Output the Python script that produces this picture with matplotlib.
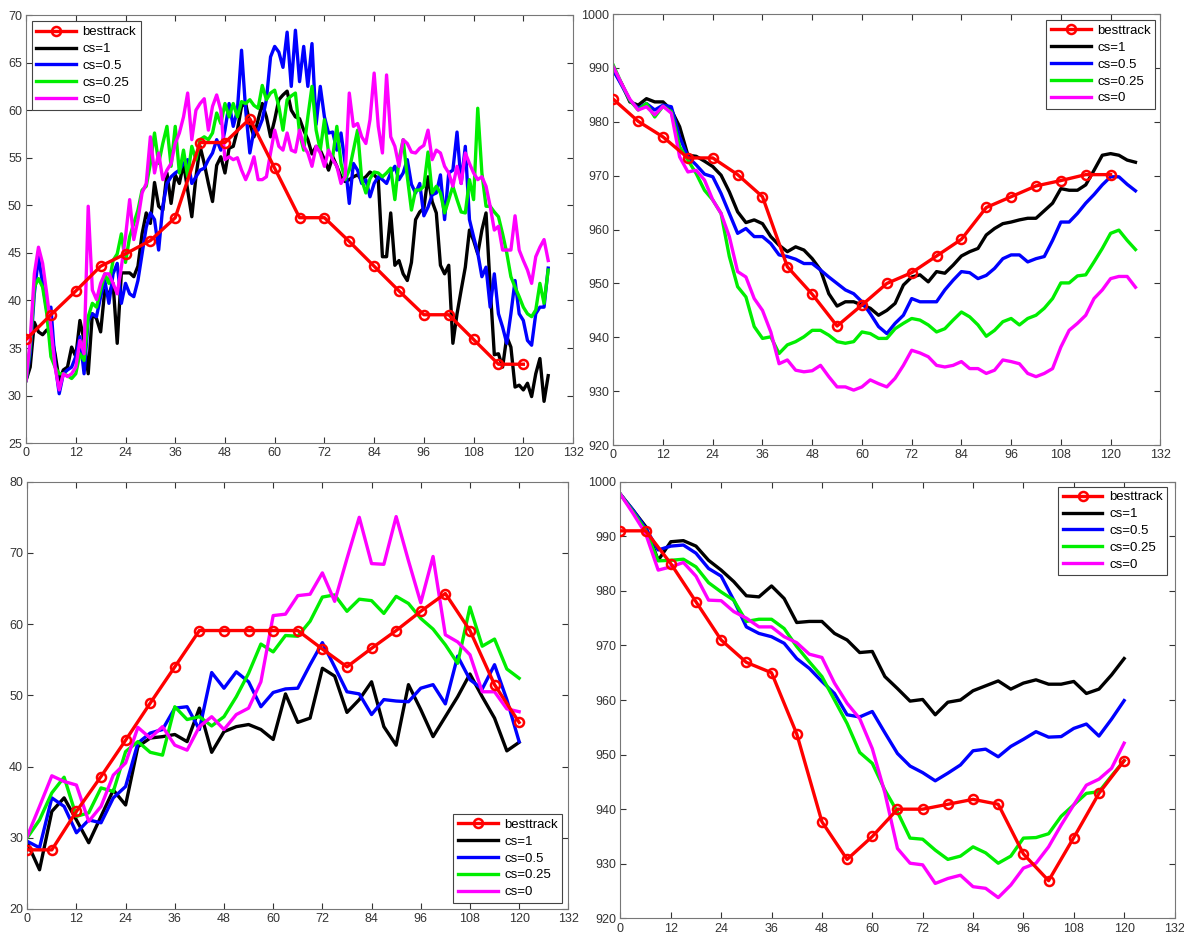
import numpy as np
import matplotlib
matplotlib.use("Agg")
import matplotlib.pyplot as plt

plt.rcParams['font.family'] = ['Liberation Sans', 'DejaVu Sans']

labels = ['besttrack', 'cs=1', 'cs=0.5', 'cs=0.25', 'cs=0']
colors = ['red', 'black', 'blue', '#00ee00', 'magenta']

# ---- top left: wind, hourly model output ----
tl_best_t = list(range(0, 121, 6))
tl_best = [35.9, 38.5, 41.0, 43.6, 44.9, 46.3, 48.7, 56.6, 56.6, 59.1, 53.9,
           48.7, 48.7, 46.2, 43.6, 41.0, 38.5, 38.5, 35.9, 33.3, 33.3]
tl_t = list(range(0, 127))
tl_cs1 = [31.6, 33.0, 37.7, 36.7, 36.4, 36.9, 36.5, 34.4, 31.6, 32.7,
          33.0, 35.1, 34.1, 37.9, 35.8, 32.3, 38.6, 38.1, 36.7, 41.1,
          40.7, 41.8, 35.5, 42.9, 42.9, 42.9, 42.5, 43.6, 47.0, 49.2,
          48.1, 52.4, 49.9, 49.5, 53.4, 50.2, 53.2, 52.3, 54.4, 51.6,
          48.8, 53.0, 56.2, 54.4, 52.3, 50.4, 54.2, 55.1, 53.4, 56.0,
          56.2, 57.9, 60.4, 60.7, 58.6, 57.2, 59.0, 60.7, 59.3, 57.2,
          59.0, 61.1, 61.6, 62.0, 60.0, 59.3, 59.1, 57.9, 56.9, 55.4,
          56.2, 55.8, 54.8, 53.7, 55.1, 54.1, 53.0, 52.5, 52.7, 53.0,
          53.2, 52.7, 53.0, 53.5, 53.2, 52.7, 44.6, 44.6, 49.2, 43.7,
          44.2, 42.8, 42.1, 44.0, 48.5, 49.3, 49.7, 53.0, 50.4, 49.2,
          43.7, 42.8, 43.7, 35.5, 38.6, 41.1, 43.5, 47.4, 46.3, 44.9,
          47.4, 49.2, 41.4, 34.3, 34.4, 33.0, 36.2, 35.1, 30.9, 31.1,
          30.6, 31.3, 29.9, 32.3, 33.9, 29.4, 32.1]
tl_cs05 = [31.6, 34.4, 40.7, 44.6, 41.8, 39.0, 39.3, 33.4, 30.2, 32.3,
           32.7, 33.0, 34.1, 36.2, 32.3, 37.9, 38.6, 38.3, 40.4, 42.1,
           39.7, 42.8, 43.9, 39.7, 41.8, 40.7, 40.4, 42.1, 44.9, 47.7,
           49.2, 48.5, 45.3, 49.9, 52.3, 53.0, 53.4, 53.7, 54.4, 54.8,
           52.3, 53.0, 53.7, 53.9, 54.8, 55.5, 56.9, 55.8, 57.9, 60.7,
           58.3, 60.0, 66.3, 60.0, 55.5, 57.9, 57.9, 59.0, 61.1, 65.6,
           66.7, 66.1, 64.5, 68.2, 62.5, 68.4, 63.0, 66.7, 62.5, 67.0,
           58.5, 62.5, 59.3, 57.6, 57.7, 55.8, 57.6, 54.4, 50.2, 54.4,
           53.7, 52.3, 52.7, 50.9, 52.3, 53.0, 52.7, 52.3, 53.4, 54.1,
           52.7, 53.4, 54.8, 52.2, 51.3, 52.3, 48.9, 49.8, 51.1, 51.3,
           53.2, 48.5, 53.4, 53.7, 57.7, 52.3, 56.2, 48.5, 46.7, 45.0,
           42.5, 43.5, 39.3, 42.8, 38.6, 37.2, 35.5, 38.6, 42.1, 38.6,
           37.9, 35.8, 35.3, 38.6, 39.3, 39.3, 43.4]
tl_cs025 = [31.6, 35.1, 41.4, 42.3, 41.4, 38.6, 34.1, 33.0, 32.3, 32.3,
            32.1, 31.8, 32.3, 34.4, 33.7, 38.3, 39.7, 39.3, 41.1, 42.8,
            41.8, 44.2, 44.9, 47.0, 44.0, 46.7, 48.1, 49.5, 51.6, 52.0,
            54.4, 57.6, 54.4, 56.5, 58.3, 54.1, 58.3, 53.4, 55.8, 53.0,
            56.2, 54.8, 56.9, 57.2, 56.9, 57.6, 59.7, 58.6, 60.7, 59.3,
            60.7, 59.3, 60.9, 60.7, 61.1, 60.5, 60.2, 62.6, 61.1, 61.8,
            62.1, 60.4, 57.9, 61.1, 61.5, 61.8, 57.6, 55.8, 59.3, 62.5,
            57.9, 55.8, 59.0, 55.5, 55.1, 58.3, 54.4, 52.7, 53.7, 55.8,
            57.9, 52.7, 51.3, 52.8, 53.5, 53.4, 53.0, 53.4, 53.9, 50.6,
            54.8, 56.9, 53.0, 49.5, 51.6, 51.6, 52.0, 55.6, 51.3, 52.0,
            51.3, 49.2, 50.6, 52.0, 50.6, 49.3, 49.2, 52.7, 50.6, 60.2,
            53.4, 49.9, 49.9, 49.3, 48.8, 47.0, 45.0, 42.5, 41.4, 40.4,
            39.3, 38.6, 38.3, 39.0, 41.8, 39.7, 43.2]
tl_cs0 = [31.6, 35.8, 42.8, 45.6, 43.9, 40.7, 37.2, 33.0, 30.6, 32.3,
          32.0, 32.3, 33.0, 35.8, 34.4, 49.9, 41.1, 40.1, 41.8, 42.8,
          42.8, 41.8, 40.7, 43.5, 46.7, 50.6, 46.4, 48.5, 51.3, 52.3,
          57.2, 53.4, 55.5, 52.7, 53.7, 54.4, 56.5, 57.6, 59.3, 61.8,
          56.9, 60.0, 60.7, 61.2, 57.9, 60.4, 61.6, 60.0, 54.8, 55.1,
          54.8, 55.0, 53.7, 52.7, 53.7, 55.1, 52.7, 52.7, 53.0, 55.5,
          57.9, 56.2, 55.8, 57.6, 55.8, 55.6, 57.9, 56.2, 55.5, 54.1,
          56.2, 55.5, 54.1, 55.8, 54.8, 54.1, 52.3, 53.0, 61.8, 58.3,
          58.6, 57.2, 56.5, 59.0, 63.9, 58.3, 55.5, 63.7, 57.2, 56.2,
          54.1, 56.9, 56.5, 55.6, 55.5, 56.0, 56.3, 57.9, 54.8, 55.8,
          55.5, 54.1, 53.4, 52.0, 54.1, 52.3, 55.5, 54.4, 53.4, 52.7,
          53.0, 52.0, 49.9, 47.4, 47.8, 45.3, 45.3, 45.3, 48.9, 45.3,
          44.2, 43.2, 41.8, 44.6, 45.6, 46.4, 44.2]

# ---- top right: pressure ----
tr_best_t = list(range(0, 121, 6))
tr_best = [984.2, 980.1, 977.2, 973.3, 973.3, 970.2, 966.1, 953.1, 948.0,
           942.1, 946.0, 950.0, 952.0, 955.1, 958.2, 964.1, 966.1, 968.1,
           969.1, 970.2, 970.2]
tr_t = list(range(0, 127, 2))
tr_cs1 = [989.6, 987.1, 983.7, 983.1, 984.3, 983.7, 983.7, 982.2, 979.1,
          973.8, 973.6, 972.7, 971.7, 970.1, 967.0, 963.3, 961.3, 961.8,
          961.1, 958.7, 957.1, 955.9, 956.8, 956.2, 954.6, 952.5, 948.1,
          945.8, 946.6, 946.6, 946.0, 945.4, 944.1, 945.0, 946.3, 949.7,
          951.2, 951.6, 950.3, 952.2, 951.9, 953.4, 955.1, 955.9, 956.5,
          959.0, 960.2, 961.1, 961.4, 961.8, 962.1, 962.1, 963.5, 964.9,
          967.6, 967.3, 967.3, 968.3, 971.0, 973.8, 974.1, 973.8, 972.9,
          972.5]
tr_cs05 = [989.6, 986.8, 984.0, 982.5, 983.4, 982.2, 983.1, 982.8, 977.2,
           973.5, 972.0, 970.3, 969.8, 966.7, 963.0, 959.3, 960.2, 958.7,
           958.7, 957.4, 955.3, 955.0, 954.5, 953.7, 953.7, 952.5, 951.2,
           950.0, 948.8, 948.1, 946.6, 944.4, 942.0, 940.7, 942.6, 944.1,
           947.2, 946.6, 946.6, 946.6, 948.8, 950.6, 952.2, 952.0, 950.9,
           951.5, 952.8, 954.6, 955.3, 955.3, 954.0, 954.6, 955.0, 958.0,
           961.4, 961.4, 963.0, 964.9, 966.5, 968.3, 969.8, 969.8, 968.4,
           967.2]
tr_cs025 = [990.5, 987.1, 984.0, 982.2, 983.4, 980.9, 982.9, 981.9, 975.4,
            972.9, 970.4, 967.3, 965.5, 963.0, 955.0, 949.4, 947.5, 942.0,
            939.8, 940.1, 937.0, 938.6, 939.2, 940.1, 941.3, 941.3, 940.4,
            939.2, 938.9, 939.2, 941.0, 940.7, 939.8, 939.8, 941.6, 942.6,
            943.5, 943.2, 942.3, 941.0, 941.6, 943.2, 944.7, 943.8, 942.3,
            940.2, 941.3, 942.9, 943.5, 942.3, 943.5, 944.1, 945.4, 947.2,
            950.1, 950.1, 951.4, 951.6, 954.0, 956.5, 959.3, 959.9, 958.0,
            956.3]
tr_cs0 = [990.2, 987.1, 984.2, 982.2, 982.8, 981.3, 982.9, 981.6, 973.5,
          970.7, 971.0, 969.2, 965.5, 963.0, 958.7, 952.2, 951.2, 947.2,
          945.0, 941.0, 935.1, 935.8, 933.9, 933.6, 933.8, 934.8, 932.7,
          930.8, 930.8, 930.2, 930.8, 932.1, 931.4, 930.8, 932.4, 934.8,
          937.6, 937.1, 936.4, 934.8, 934.5, 934.8, 935.5, 934.2, 934.2,
          933.3, 933.9, 935.8, 935.5, 935.1, 933.3, 932.7, 933.3, 934.2,
          938.2, 941.3, 942.6, 944.1, 947.2, 948.8, 950.9, 951.3, 951.3,
          949.3]

# ---- bottom left: wind, 3-hourly ----
bl_best_t = list(range(0, 121, 6))
bl_best = [28.3, 28.3, 33.7, 38.6, 43.7, 48.9, 54.0, 59.1, 59.1, 59.1, 59.1,
           59.1, 56.5, 54.0, 56.6, 59.1, 61.8, 64.3, 59.1, 51.5, 46.2]
bl_t = list(range(0, 121, 3))
bl_cs1 = [29.3, 25.5, 33.7, 35.6, 32.5, 29.3, 33.0, 36.7, 34.6, 42.8, 44.0,
          44.2, 44.5, 43.5, 48.2, 42.0, 44.9, 45.6, 45.9, 45.2, 43.8, 50.2,
          46.2, 46.8, 53.8, 52.7, 47.6, 49.4, 51.9, 45.6, 43.0, 51.5, 48.0,
          44.2, 47.0, 49.8, 53.0, 49.8, 46.8, 42.2, 43.4]
bl_cs05 = [29.5, 28.6, 35.6, 34.4, 30.7, 32.5, 32.1, 35.6, 37.2, 43.3, 44.7,
           45.2, 48.2, 48.4, 45.2, 53.2, 51.0, 53.3, 51.9, 48.4, 50.4, 50.9,
           51.0, 54.3, 57.4, 54.0, 50.5, 50.2, 47.3, 49.4, 49.2, 49.1, 51.0,
           51.5, 48.8, 55.5, 52.2, 50.9, 54.3, 49.4, 43.5]
bl_cs025 = [30.0, 32.5, 36.3, 38.5, 33.0, 33.5, 37.0, 36.5, 42.1, 43.5, 42.0,
            41.6, 48.4, 46.6, 47.0, 45.7, 47.0, 49.8, 53.1, 57.2, 56.1, 58.4,
            58.3, 60.4, 63.8, 64.1, 61.8, 63.5, 63.3, 61.5, 63.9, 62.9, 60.8,
            59.3, 57.1, 54.5, 62.4, 56.9, 57.9, 53.7, 52.4]
bl_cs0 = [30.2, 34.4, 38.7, 37.9, 37.4, 32.3, 34.4, 38.8, 40.5, 45.5, 44.0,
          45.6, 43.0, 42.3, 45.6, 47.0, 45.2, 47.3, 48.2, 51.9, 61.2, 61.4,
          64.0, 64.2, 67.2, 63.2, 69.2, 75.0, 68.5, 68.4, 75.1, 68.9, 63.0,
          69.5, 58.5, 57.5, 55.7, 50.5, 50.5, 48.1, 47.7]

# ---- bottom right: pressure, 3-hourly ----
br_best_t = list(range(0, 121, 6))
br_best = [991.0, 991.0, 985.0, 978.0, 971.0, 966.9, 965.0, 953.8, 937.7,
           930.8, 935.0, 940.0, 940.0, 940.9, 941.8, 940.9, 931.8, 926.9,
           934.8, 942.9, 948.9]
br_t = list(range(0, 121, 3))
br_cs1 = [997.7, 994.8, 991.8, 985.6, 989.0, 989.2, 988.2, 985.6, 983.8,
          981.7, 979.1, 978.9, 980.9, 978.6, 974.2, 974.4, 974.4, 972.2,
          971.0, 968.7, 968.9, 964.3, 962.1, 959.8, 960.1, 957.3, 959.6,
          960.0, 961.7, 962.6, 963.5, 962.0, 963.1, 963.7, 962.9, 962.9,
          963.4, 961.2, 962.0, 964.6, 967.6]
br_cs05 = [997.7, 994.8, 991.5, 987.5, 988.2, 988.4, 986.9, 984.1, 982.7,
           978.3, 973.4, 972.2, 971.6, 970.4, 967.6, 965.8, 963.4, 961.2,
           957.3, 956.9, 957.9, 954.0, 950.2, 947.9, 946.7, 945.2, 946.6,
           948.1, 950.7, 951.0, 949.6, 951.5, 952.8, 954.2, 953.2, 953.3,
           954.8, 955.6, 953.4, 956.5, 959.9]
br_cs025 = [997.7, 994.5, 991.1, 985.5, 985.6, 985.8, 984.4, 981.5, 979.8,
            978.3, 974.4, 974.8, 974.8, 973.1, 969.8, 967.0, 964.3, 960.0,
            955.7, 950.4, 948.4, 943.5, 939.5, 934.7, 934.5, 932.5, 930.8,
            931.4, 933.1, 932.0, 930.1, 931.4, 934.7, 934.8, 935.5, 938.7,
            940.8, 942.9, 943.2, 946.1, 948.9]
br_cs0 = [997.7, 994.2, 990.5, 983.8, 984.4, 985.2, 982.7, 978.3, 978.2,
          976.2, 975.0, 973.4, 973.4, 971.6, 970.5, 968.4, 967.8, 963.1,
          959.4, 956.6, 951.1, 943.0, 932.8, 930.1, 929.8, 926.4, 927.3,
          927.9, 925.8, 925.5, 923.8, 926.1, 929.2, 930.1, 933.1, 937.1,
          940.8, 944.4, 945.5, 947.5, 952.1]

xticks = list(range(0, 133, 12))


def panel(fig, rect, best_t, best, t, series, ylim, ystep, leg_loc, leg_anchor):
    ax = fig.add_axes(rect)
    ax.plot(best_t, best, '-o', color=colors[0], lw=2.4, ms=6.5,
            mfc='none', mew=1.8, label=labels[0], zorder=5)
    for s, c, lab in zip(series, colors[1:], labels[1:]):
        ax.plot(t, s, '-', color=c, lw=2.4, label=lab)
    ax.set_xlim(0, 132)
    ax.set_ylim(*ylim)
    ax.set_xticks(xticks)
    ax.set_yticks(np.arange(ylim[0], ylim[1] + 0.1, ystep))
    ax.tick_params(direction='in', length=4, top=True, right=True,
                   labelsize=9, colors='#333333', pad=3)
    for sp in ax.spines.values():
        sp.set_color('#777777')
    leg = ax.legend(loc=leg_loc, bbox_to_anchor=leg_anchor, fontsize=9.5,
                    fancybox=False, framealpha=1, edgecolor='#444444',
                    handlelength=3.0, labelspacing=0.35, borderpad=0.35,
                    borderaxespad=0, handletextpad=0.5)
    leg.get_frame().set_linewidth(0.8)
    return ax


fig = plt.figure(figsize=(11.84, 9.39), dpi=100)

panel(fig, [0.022, 0.528, 0.462, 0.456], tl_best_t, tl_best, tl_t,
      [tl_cs1, tl_cs05, tl_cs025, tl_cs0], (25, 70), 5,
      'upper left', (0.01, 0.985))
panel(fig, [0.518, 0.526, 0.462, 0.459], tr_best_t, tr_best, tr_t,
      [tr_cs1, tr_cs05, tr_cs025, tr_cs0], (920, 1000), 10,
      'upper right', (0.991, 0.986))
panel(fig, [0.023, 0.032, 0.457, 0.455], bl_best_t, bl_best, bl_t,
      [bl_cs1, bl_cs05, bl_cs025, bl_cs0], (20, 80), 10,
      'lower right', (0.989, 0.014))
panel(fig, [0.524, 0.022, 0.468, 0.465], br_best_t, br_best, br_t,
      [br_cs1, br_cs05, br_cs025, br_cs0], (920, 1000), 10,
      'upper right', (0.987, 0.989))

fig.savefig("out.png", dpi=100)
